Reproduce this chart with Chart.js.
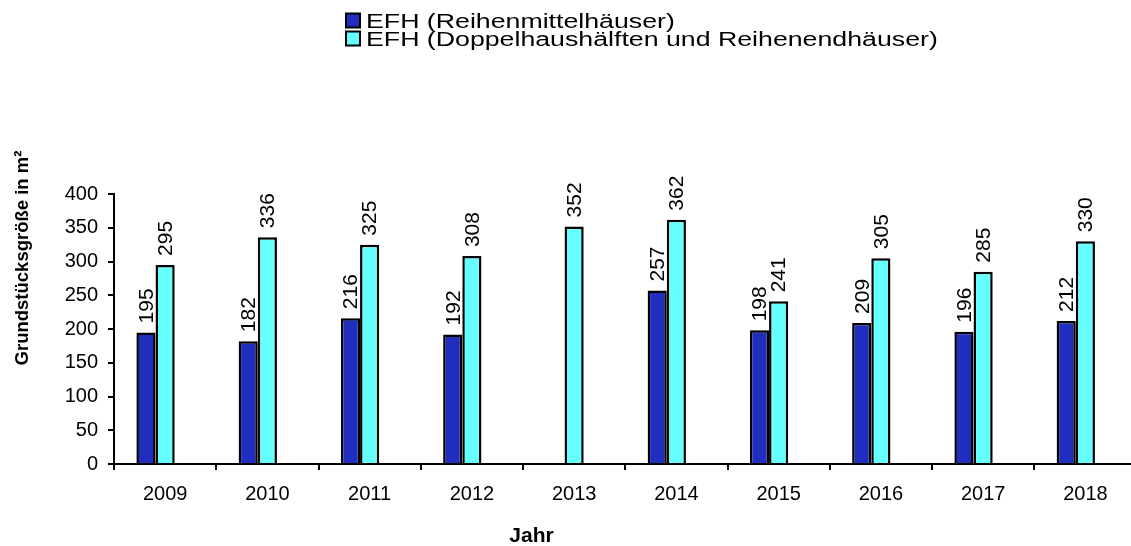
<!DOCTYPE html>
<html>
<head>
<meta charset="utf-8">
<script src="https://cdn.jsdelivr.net/npm/chart.js@4/dist/chart.umd.min.js"></script>
<style>
  html, body { margin: 0; padding: 0; background: #fff; overflow: hidden; }
  #wrap { width: 1140px; height: 546px; position: relative; }
</style>
</head>
<body>
<div id="wrap"><canvas id="chart"></canvas></div>
<script>
// Data
const years = ["2009", "2010", "2011", "2012", "2013", "2014", "2015", "2016", "2017", "2018"];
const reihenmittel = [195, 182, 216, 192, null, 257, 198, 209, 196, 212];
const doppelhaus = [295, 336, 325, 308, 352, 362, 241, 305, 285, 330];
const emptySeries = [null, null, null, null, null, null, null, null, null, null];
const yTicks = [0, 50, 100, 150, 200, 250, 300, 350, 400];

const seriesLabels = ["EFH (Reihenmittelhäuser)", "EFH (Doppelhaushälften und Reihenendhäuser)"];
const FONT = '"Liberation Sans", Arial, sans-serif';

Chart.defaults.color = "#000";
Chart.defaults.font.family = FONT;

// rotated value labels above bars
const valueLabels = {
  id: "valueLabels",
  afterDatasetsDraw(chart) {
    const ctx = chart.ctx;
    ctx.save();
    ctx.font = "21px " + FONT;
    ctx.fillStyle = "#000";
    ctx.textAlign = "left";
    ctx.textBaseline = "middle";
    chart.data.datasets.forEach((ds, i) => {
      const meta = chart.getDatasetMeta(i);
      meta.data.forEach((bar, j) => {
        const v = ds.data[j];
        if (v === null || v === undefined) return;
        ctx.save();
        ctx.translate(bar.x + 1, bar.y - 9);
        ctx.rotate(-Math.PI / 2);
        ctx.fillText(String(v), 0, 0);
        ctx.restore();
      });
    });
    ctx.restore();
  },
};

// legend and axis titles, placed like the original
const extras = {
  id: "extras",
  afterDraw(chart) {
    const ctx = chart.ctx;
    ctx.save();
    // legend, two stacked rows
    const rows = [
      { color: chart.data.datasets[0].backgroundColor, y: 12.5 },
      { color: chart.data.datasets[1].backgroundColor, y: 30.5 },
    ];
    rows.forEach((r, i) => {
      ctx.fillStyle = r.color;
      ctx.fillRect(346, r.y + 1, 14, 14);
      ctx.lineWidth = 2;
      ctx.strokeStyle = "#000";
      ctx.strokeRect(346, r.y + 1, 14, 14);
      ctx.save();
      ctx.translate(366, r.y + 15);
      ctx.scale(1.37, 1);
      ctx.font = "19.5px " + FONT;
      ctx.fillStyle = "#000";
      ctx.textBaseline = "alphabetic";
      ctx.fillText(seriesLabels[i], 0, 0);
      ctx.restore();
    });
    // y title
    ctx.save();
    ctx.translate(23, 258);
    ctx.rotate(-Math.PI / 2);
    ctx.font = "bold 18.5px " + FONT;
    ctx.fillStyle = "#000";
    ctx.textAlign = "center";
    ctx.textBaseline = "middle";
    ctx.fillText("Grundstücksgröße in m²", 0, 0);
    ctx.restore();
    // x title
    ctx.font = "bold 21px " + FONT;
    ctx.fillStyle = "#000";
    ctx.textAlign = "center";
    ctx.textBaseline = "alphabetic";
    ctx.fillText("Jahr", 531.5, 542);
    ctx.restore();
  },
};

const config = {
  type: "bar",
  data: {
    labels: years,
    datasets: [
      {
        label: seriesLabels[0],
        data: reihenmittel,
        backgroundColor: "#1f2ebe",
        borderColor: "#000",
        borderWidth: 2.5,
      },
      {
        label: seriesLabels[1],
        data: doppelhaus,
        backgroundColor: "#66ffff",
        borderColor: "#000",
        borderWidth: 2.5,
      },
      {
        label: "",
        data: emptySeries,
        backgroundColor: "#fff",
      },
    ],
  },
  options: {
    responsive: true,
    maintainAspectRatio: false,
    animation: false,
    categoryPercentage: 0.562,
    barPercentage: 1.0,
    layout: { padding: { left: 0, top: 194, right: 3.5, bottom: 42 } },
    plugins: {
      legend: { display: false },
      tooltip: { enabled: false },
    },
    scales: {
      x: {
        offset: true,
        grid: {
          offset: true,
          drawOnChartArea: false,
          drawTicks: true,
          tickLength: 6,
          color: "#000",
          lineWidth: 2,
        },
        border: { color: "#000", width: 2 },
        ticks: { font: { size: 20 }, padding: 12, maxRotation: 0, autoSkip: false },
        afterFit(scale) { scale.height = 40; },
      },
      y: {
        min: 0,
        max: 400,
        afterBuildTicks(scale) { scale.ticks = yTicks.map((v) => ({ value: v })); },
        grid: {
          drawOnChartArea: false,
          drawTicks: true,
          tickLength: 6,
          color: "#000",
          lineWidth: 2,
        },
        border: { color: "#000", width: 2 },
        ticks: { font: { size: 20 }, padding: 10 },
        afterFit(scale) { scale.width = 114; },
      },
    },
  },
  plugins: [valueLabels, extras],
};

new Chart(document.getElementById("chart"), config);
</script>
</body>
</html>
